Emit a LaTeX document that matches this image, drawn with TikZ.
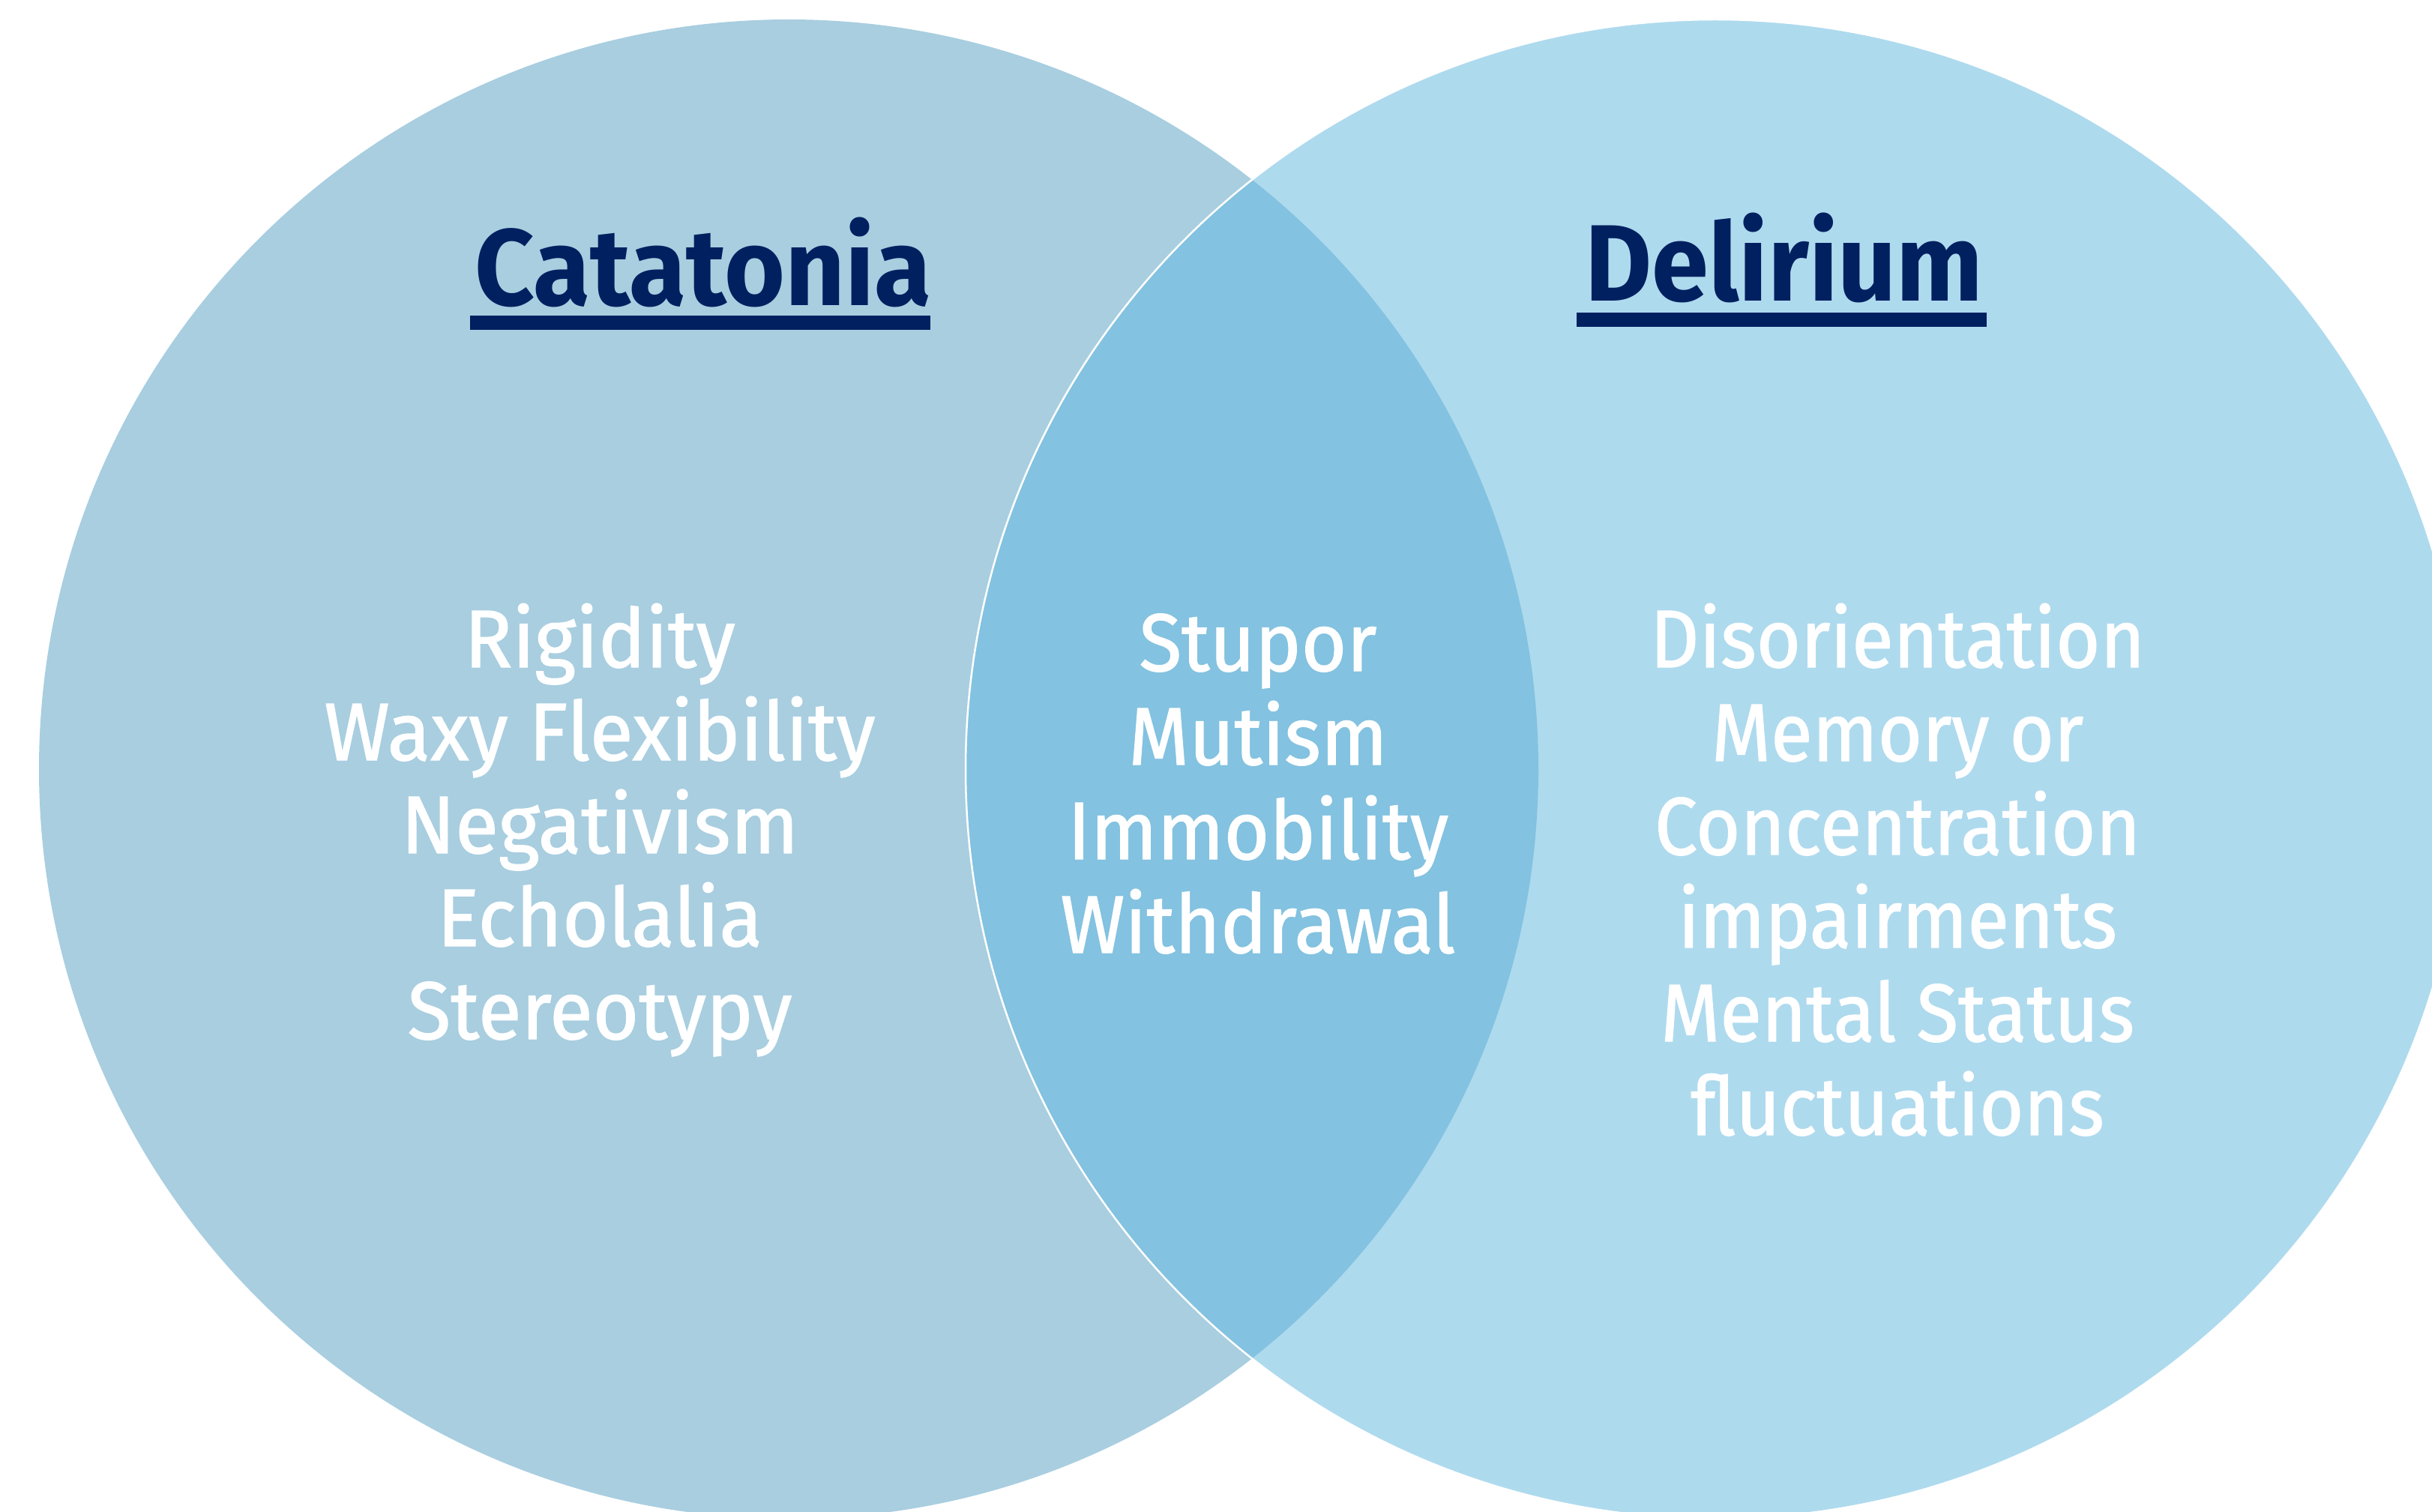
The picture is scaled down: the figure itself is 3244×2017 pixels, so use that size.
\documentclass[tikz,border=0pt]{standalone}
\usepackage{fontspec}
\setmainfont{Fira Sans}
\newfontfamily\bodyff{Fira Sans}[FakeBold=1.2]
\usetikzlibrary{calc}
\definecolor{leftc}{HTML}{A8CEE0}
\definecolor{rightc}{HTML}{AEDAEE}
\definecolor{lensc}{HTML}{83C2E0}
\definecolor{navy}{HTML}{002060}
\newcommand\bodysize{\bodyff\fontsize{109}{124}\selectfont}
\newcommand\titlesize{\fontsize{145}{160}\selectfont\bfseries}
\newlength\natw
\begin{document}%
\settowidth\natw{\bodysize Waxy Flexibility}\pgfmathsetmacro\sxL{735/\natw}%
\settowidth\natw{\bodysize Withdrawal}\pgfmathsetmacro\sxC{527/\natw}%
\settowidth\natw{\bodysize Concentration}\pgfmathsetmacro\sxR{648/\natw}%
\settowidth\natw{\titlesize Catatonia}\pgfmathsetmacro\sxT{610/\natw}%
\settowidth\natw{\titlesize Delirium}\pgfmathsetmacro\sxD{531/\natw}%
\begin{tikzpicture}[x=1pt,y=-1pt,
  bodytxt/.style={text=white, inner sep=0pt, anchor=base, font=\bodysize},
  ttltxt/.style={text=navy, inner sep=0pt, anchor=base, font=\titlesize}]
\useasboundingbox (0,0) rectangle (3244,2017);
\clip (0,0) rectangle (3244,2017);
% circles
\fill[leftc] (1052,1026) circle (1000pt);
\fill[rightc] (2288,1026) circle (1000pt);
\begin{scope}
  \clip (1052,1026) circle (1000pt);
  \fill[lensc] (2288,1026) circle (1000pt);
\end{scope}
\draw[white, line width=2.5pt] (2288,1026) circle (1000pt);
% titles
\node[ttltxt] (cat) at (938,407) {\scalebox{\sxT}[1]{Catatonia}};
\node[ttltxt] (del) at (2380,402) {\scalebox{\sxD}[1]{Delirium}};
\fill[navy] ($(cat.base)+(-311,14)$) rectangle ($(cat.base)+(303,33)$);
\fill[navy] ($(del.base)+(-277,15)$) rectangle ($(del.base)+(270,34)$);
% left block
\node[bodytxt] (l1) at (800,890) {\scalebox{\sxL}[1]{Rigidity}};
\node[bodytxt] (l2) at (800,1014) {\scalebox{\sxL}[1]{Waxy Flexibility}};
\node[bodytxt] (l3) at (800,1138) {\scalebox{\sxL}[1]{Negativism}};
\node[bodytxt] (l4) at (800,1262) {\scalebox{\sxL}[1]{Echolalia}};
\node[bodytxt] (l5) at (800,1386) {\scalebox{\sxL}[1]{Stereotypy}};
% centre block
\node[bodytxt] (c1) at (1678,895) {\scalebox{\sxC}[1]{Stupor}};
\node[bodytxt] (c2) at (1678,1020) {\scalebox{\sxC}[1]{Mutism}};
\node[bodytxt] (c3) at (1678,1146) {\scalebox{\sxC}[1]{Immobility}};
\node[bodytxt] (c4) at (1678,1271) {\scalebox{\sxC}[1]{Withdrawal}};
% right block
\node[bodytxt] (r1) at (2531,890) {\scalebox{\sxR}[1]{Disorientation}};
\node[bodytxt] (r2) at (2531,1015) {\scalebox{\sxR}[1]{Memory or}};
\node[bodytxt] (r3) at (2531,1140) {\scalebox{\sxR}[1]{Concentration}};
\node[bodytxt] (r4) at (2531,1264) {\scalebox{\sxR}[1]{impairments}};
\node[bodytxt] (r5) at (2531,1389) {\scalebox{\sxR}[1]{Mental Status}};
\node[bodytxt] (r6) at (2531,1514) {\scalebox{\sxR}[1]{fluctuations}};
\end{tikzpicture}%
\end{document}
